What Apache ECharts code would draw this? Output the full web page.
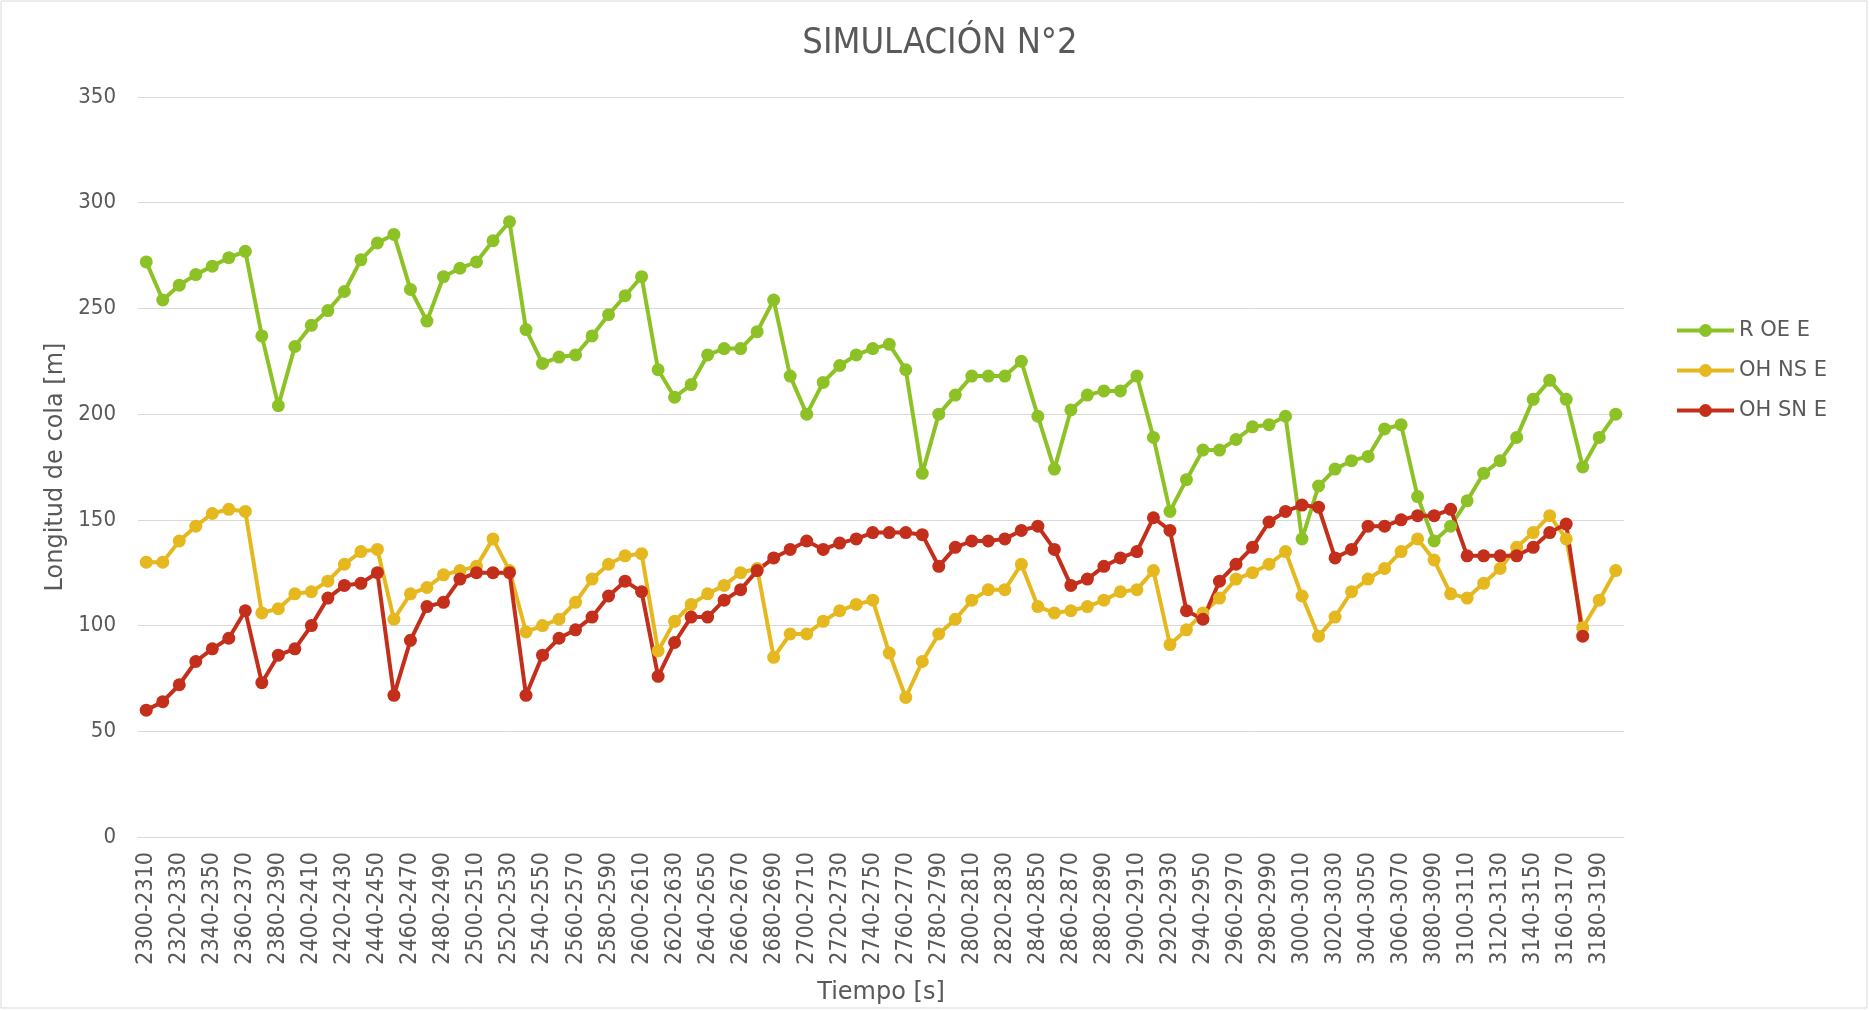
<!DOCTYPE html>
<html>
<head>
<meta charset="utf-8">
<script src="https://cdn.jsdelivr.net/npm/echarts@6/dist/echarts.min.js"></script>
<style>
html,body{margin:0;padding:0;background:#fff;}
#chart{width:1869px;height:1010px;}
</style>
</head>
<body>
<div id="chart"></div>
<script>
var categories = [
"2300-2310","2310-2320","2320-2330","2330-2340","2340-2350","2350-2360","2360-2370","2370-2380","2380-2390","2390-2400",
"2400-2410","2410-2420","2420-2430","2430-2440","2440-2450","2450-2460","2460-2470","2470-2480","2480-2490","2490-2500",
"2500-2510","2510-2520","2520-2530","2530-2540","2540-2550","2550-2560","2560-2570","2570-2580","2580-2590","2590-2600",
"2600-2610","2610-2620","2620-2630","2630-2640","2640-2650","2650-2660","2660-2670","2670-2680","2680-2690","2690-2700",
"2700-2710","2710-2720","2720-2730","2730-2740","2740-2750","2750-2760","2760-2770","2770-2780","2780-2790","2790-2800",
"2800-2810","2810-2820","2820-2830","2830-2840","2840-2850","2850-2860","2860-2870","2870-2880","2880-2890","2890-2900",
"2900-2910","2910-2920","2920-2930","2930-2940","2940-2950","2950-2960","2960-2970","2970-2980","2980-2990","2990-3000",
"3000-3010","3010-3020","3020-3030","3030-3040","3040-3050","3050-3060","3060-3070","3070-3080","3080-3090","3090-3100",
"3100-3110","3110-3120","3120-3130","3130-3140","3140-3150","3150-3160","3160-3170","3170-3180","3180-3190","3190-3200"
];

var rOE_E = [
272,254,261,266,270,274,277,237,204,232,
242,249,258,273,281,285,259,244,265,269,
272,282,291,240,224,227,228,237,247,256,
265,221,208,214,228,231,231,239,254,218,
200,215,223,228,231,233,221,172,200,209,
218,218,218,225,199,174,202,209,211,211,
218,189,154,169,183,183,188,194,195,199,
141,166,174,178,180,193,195,161,140,147,
159,172,178,189,207,216,207,175,189,200
];

var ohNS_E = [
130,130,140,147,153,155,154,106,108,115,
116,121,129,135,136,103,115,118,124,126,
128,141,126,97,100,103,111,122,129,133,
134,88,102,110,115,119,125,127,85,96,
96,102,107,110,112,87,66,83,96,103,
112,117,117,129,109,106,107,109,112,116,
117,126,91,98,106,113,122,125,129,135,
114,95,104,116,122,127,135,141,131,115,
113,120,127,137,144,152,141,99,112,126
];

var ohSN_E = [
60,64,72,83,89,94,107,73,86,89,
100,113,119,120,125,67,93,109,111,122,
125,125,125,67,86,94,98,104,114,121,
116,76,92,104,104,112,117,126,132,136,
140,136,139,141,144,144,144,143,128,137,
140,140,141,145,147,136,119,122,128,132,
135,151,145,107,103,121,129,137,149,154,
157,156,132,136,147,147,150,152,152,155,
133,133,133,133,137,144,148,95
];

var seriesNames = ["R OE E", "OH NS E", "OH SN E"];
var seriesColors = ["#8dc226", "#e6b81f", "#c42f1b"];
var yTicks = [0, 50, 100, 150, 200, 250, 300, 350];

var FONT = '"DejaVu Sans Condensed", "DejaVu Sans", sans-serif';
var FONT_W = '"DejaVu Sans", sans-serif';
var TXT = '#595959';

var chart = echarts.init(document.getElementById('chart'), null, {renderer: 'canvas'});

function mkSeries(name, data, color) {
  return {
    name: name,
    type: 'line',
    data: data,
    symbol: 'circle',
    symbolSize: 13,
    showAllSymbol: true,
    lineStyle: {width: 4, color: color},
    itemStyle: {color: color},
    animation: false
  };
}

chart.setOption({
  animation: false,
  backgroundColor: '#ffffff',
  textStyle: {fontFamily: FONT, color: TXT},
  title: {
    text: 'SIMULACIÓN N°2',
    left: 935,
    textAlign: 'center',
    top: 21,
    textStyle: {fontFamily: FONT, fontSize: 36, fontWeight: 'normal', color: TXT}
  },
  graphic: [{
    type: 'rect',
    shape: {x: 1, y: 1, width: 1866, height: 1007},
    style: {fill: 'none', stroke: '#d9d9d9', lineWidth: 1},
    silent: true
  }],
  legend: {
    orient: 'vertical',
    left: 1670,
    top: 315,
    itemWidth: 57,
    itemHeight: 16,
    itemGap: 19,
    data: seriesNames,
    lineStyle: {width: 4},
    textStyle: {fontFamily: FONT_W, fontSize: 21, color: TXT, lineHeight: 21}
  },
  grid: {left: 138, right: 245, top: 97, bottom: 168},
  xAxis: {
    type: 'category',
    data: categories,
    boundaryGap: true,
    name: 'Tiempo [s]',
    nameLocation: 'middle',
    nameGap: 144,
    nameTextStyle: {fontFamily: FONT_W, fontSize: 24, color: TXT},
    axisLine: {show: true, lineStyle: {color: '#d9d9d9', width: 1}},
    axisTick: {show: false},
    axisLabel: {
      interval: 1,
      rotate: 90,
      margin: 15,
      fontFamily: FONT,
      fontSize: 23,
      color: TXT
    },
    splitLine: {show: false}
  },
  yAxis: {
    type: 'value',
    min: yTicks[0],
    max: yTicks[yTicks.length - 1],
    interval: 50,
    name: 'Longitud de cola [m]',
    nameLocation: 'middle',
    nameGap: 68,
    nameTextStyle: {fontFamily: FONT_W, fontSize: 24, color: TXT},
    axisLine: {show: false},
    axisTick: {show: false},
    axisLabel: {margin: 22, fontFamily: FONT, fontSize: 22, color: TXT},
    splitLine: {show: true, lineStyle: {color: '#d9d9d9', width: 1}}
  },
  series: [
    mkSeries(seriesNames[0], rOE_E, seriesColors[0]),
    mkSeries(seriesNames[1], ohNS_E, seriesColors[1]),
    mkSeries(seriesNames[2], ohSN_E, seriesColors[2])
  ]
});
</script>
</body>
</html>
